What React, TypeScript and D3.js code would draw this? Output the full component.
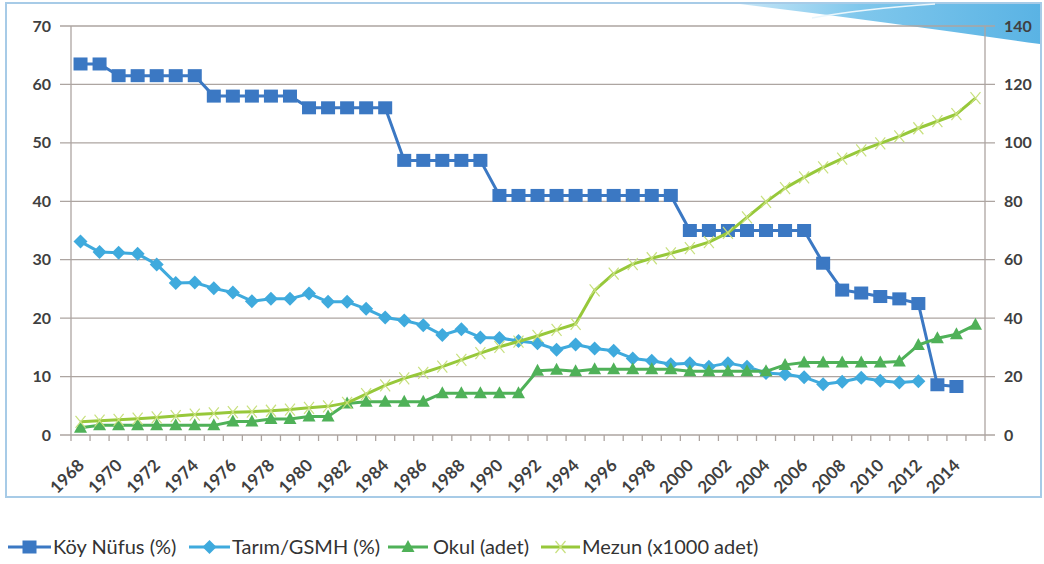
import React, { useEffect, useRef } from "react";
import * as d3 from "d3";

const years = d3.range(1968, 2016);

// Köy Nüfus (%) 1968-2014, left axis
const koyNufus = [
  63.5, 63.5, 61.5, 61.5, 61.5, 61.5, 61.5, 58, 58, 58, 58, 58, 56, 56, 56, 56, 56,
  47, 47, 47, 47, 47, 41, 41, 41, 41, 41, 41, 41, 41, 41, 41,
  35, 35, 35, 35, 35, 35, 35, 29.4, 24.8, 24.3, 23.7, 23.3, 22.5, 8.6, 8.3,
];

// Tarım/GSMH (%) 1968-2012, left axis
const tarim = [
  33.1, 31.3, 31.2, 31.0, 29.2, 26.0, 26.1, 25.1, 24.4, 22.9, 23.3, 23.3, 24.2, 22.8, 22.8,
  21.6, 20.1, 19.6, 18.8, 17.1, 18.1, 16.7, 16.6, 16.1, 15.7, 14.6, 15.5, 14.8, 14.4, 13.1,
  12.7, 12.1, 12.3, 11.7, 12.3, 11.7, 10.6, 10.4, 9.9, 8.7, 9.1, 9.8, 9.3, 9.0, 9.2,
];

// Okul (adet) 1968-2015, right axis
const okul = [
  2.5, 3.3, 3.3, 3.3, 3.3, 3.3, 3.3, 3.3, 4.6, 4.6, 5.5, 5.5, 6.3, 6.3, 10.8,
  11.4, 11.4, 11.4, 11.4, 14.3, 14.3, 14.3, 14.3, 14.3, 22.0, 22.3, 21.8,
  22.5, 22.5, 22.5, 22.5, 22.5, 21.8, 21.8, 21.8, 21.8, 21.8, 24.0,
  24.8, 24.8, 24.8, 24.8, 24.8, 25.2, 30.8, 33.1, 34.5, 37.7,
];

// Mezun (x1000 adet) 1968-2015, right axis
const mezun = [
  4.5, 4.9, 5.2, 5.6, 6.0, 6.5, 7.0, 7.4, 7.8, 8.0, 8.3, 8.7, 9.3, 9.8, 11.0,
  14.0, 17.0, 19.4, 21.3, 23.4, 25.7, 28.0, 30.2, 32.0, 33.9, 36.0, 38.0,
  49.5, 55.2, 58.5, 60.5, 62.2, 64.0, 66.0, 69.2, 74.5, 79.8, 84.5, 88.2,
  91.6, 94.6, 97.4, 99.8, 102.2, 105.0, 107.4, 109.8, 115.3,
];

const leftTicks = [0, 10, 20, 30, 40, 50, 60, 70];
const rightTicks = [0, 20, 40, 60, 80, 100, 120, 140];
const yearLabels = d3.range(1968, 2015, 2);

const seriesNames = ["Köy Nüfus (%)", "Tarım/GSMH (%)", "Okul (adet)", "Mezun (x1000 adet)"];
const colors = ["#3b78c3", "#3faadd", "#4fb158", "#97c83a"];

const W = 1044;
const H = 564;

function App() {
  const ref = useRef<SVGSVGElement>(null);

  useEffect(() => {
    const svg = d3.select(ref.current);
    svg.selectAll("*").remove();

    const left = 71, right = 985, top = 26, bottom = 435;
    const x = d3.scaleBand<number>().domain(years).range([left, right]);
    const cx = (yr: number) => (x(yr) as number) + x.bandwidth() / 2;
    const yL = d3.scaleLinear().domain([0, 70]).range([bottom, top]);
    const yR = d3.scaleLinear().domain([0, 140]).range([bottom, top]);

    const defs = svg.append("defs");
    const grad = defs.append("linearGradient").attr("id", "swoosh").attr("x1", "0").attr("x2", "1");
    grad.append("stop").attr("offset", "0").attr("stop-color", "#c6e6f7");
    grad.append("stop").attr("offset", "0.4").attr("stop-color", "#7fc7ec");
    grad.append("stop").attr("offset", "1").attr("stop-color", "#5ab3e4");

    // frame
    svg.append("rect").attr("x", 6).attr("y", 3).attr("width", 1035).attr("height", 494)
      .attr("fill", "#fff").attr("stroke", "#a7cbe7").attr("stroke-width", 2);
    svg.append("path")
      .attr("d", "M740,4 C840,16 940,30 1040,44 L1040,4 Z")
      .attr("fill", "url(#swoosh)");
    svg.append("path")
      .attr("d", "M812,18 C850,11 890,7 935,4")
      .attr("fill", "none").attr("stroke", "#eaf6fc").attr("stroke-width", 1.5);

    const font = "Lato, 'Open Sans', sans-serif";

    // gridlines
    svg.append("g").selectAll("line").data(leftTicks).join("line")
      .attr("x1", 60).attr("x2", 995)
      .attr("y1", (d) => yL(d)).attr("y2", (d) => yL(d))
      .attr("stroke", "#ada5a1").attr("stroke-width", 1.3);

    // axes lines
    svg.append("line").attr("x1", left).attr("x2", left).attr("y1", top).attr("y2", bottom + 6)
      .attr("stroke", "#ada5a1").attr("stroke-width", 1.3);
    svg.append("line").attr("x1", right).attr("x2", right).attr("y1", top).attr("y2", bottom + 6)
      .attr("stroke", "#ada5a1").attr("stroke-width", 1.3);
    svg.append("g").selectAll("line").data(years.slice(1)).join("line")
      .attr("x1", (d) => x(d) as number).attr("x2", (d) => x(d) as number)
      .attr("y1", bottom).attr("y2", bottom + 6)
      .attr("stroke", "#ada5a1").attr("stroke-width", 1.3);

    // tick labels
    svg.append("g").selectAll("text").data(leftTicks).join("text")
      .attr("x", 51).attr("y", (d) => yL(d)).attr("dy", "0.35em")
      .attr("text-anchor", "end").attr("font-family", font).attr("font-weight", 700)
      .attr("font-size", 16).attr("fill", "#404040").text((d) => d);
    svg.append("g").selectAll("text").data(rightTicks).join("text")
      .attr("x", 1004).attr("y", (d) => yR(d)).attr("dy", "0.35em")
      .attr("text-anchor", "start").attr("font-family", font).attr("font-weight", 700)
      .attr("font-size", 16).attr("fill", "#404040").text((d) => d);
    svg.append("g").selectAll("text").data(yearLabels).join("text")
      .attr("transform", (d) => `translate(${cx(d)},${462}) rotate(-45)`)
      .attr("text-anchor", "end").attr("dominant-baseline", "central")
      .attr("font-family", font).attr("font-weight", 700)
      .attr("font-size", 17).attr("fill", "#404040").text((d) => d);

    const plot = (vals: number[], y: d3.ScaleLinear<number, number>) =>
      vals.map((v, i) => [cx(years[i]), y(v)] as [number, number]);
    const line = d3.line();

    const drawSquare = (g: any, px: number, py: number, c: string) =>
      g.append("rect").attr("x", px - 7).attr("y", py - 6.5).attr("width", 14).attr("height", 13).attr("fill", c);
    const drawDiamond = (g: any, px: number, py: number, c: string) =>
      g.append("path").attr("d", `M${px},${py - 7}L${px + 7},${py}L${px},${py + 7}L${px - 7},${py}Z`).attr("fill", c);
    const drawTriangle = (g: any, px: number, py: number, c: string) =>
      g.append("path").attr("d", `M${px},${py - 7}L${px + 6.5},${py + 5}L${px - 6.5},${py + 5}Z`).attr("fill", c);
    const drawCross = (g: any, px: number, py: number, c: string) =>
      g.append("path").attr("d", `M${px - 5},${py - 6}L${px + 5},${py + 6}M${px + 5},${py - 6}L${px - 5},${py + 6}`)
        .attr("stroke", c).attr("stroke-width", 1.2).attr("fill", "none");

    const series = [
      { pts: plot(koyNufus, yL), c: colors[0], m: drawSquare, mc: colors[0] },
      { pts: plot(tarim, yL), c: colors[1], m: drawDiamond, mc: colors[1] },
      { pts: plot(okul, yR), c: colors[2], m: drawTriangle, mc: colors[2] },
      { pts: plot(mezun, yR), c: colors[3], m: drawCross, mc: "#c8e07e" },
    ];

    series.forEach((s) => {
      const g = svg.append("g");
      g.append("path").attr("d", line(s.pts)).attr("fill", "none")
        .attr("stroke", s.c).attr("stroke-width", 3).attr("stroke-linejoin", "round");
      s.pts.forEach(([px, py]) => s.m(g, px, py, s.mc));
    });

    // legend
    const legendItems = [
      { x0: 8, x1: 51, tx: 53 },
      { x0: 189, x1: 230, tx: 232 },
      { x0: 388, x1: 428, tx: 433 },
      { x0: 541, x1: 580, tx: 582 },
    ];
    const lg = svg.append("g");
    legendItems.forEach((it, i) => {
      const ly = 547;
      lg.append("line").attr("x1", it.x0).attr("x2", it.x1).attr("y1", ly).attr("y2", ly)
        .attr("stroke", colors[i]).attr("stroke-width", 3);
      series[i].m(lg, (it.x0 + it.x1) / 2, ly, series[i].mc);
      lg.append("text").attr("x", it.tx).attr("y", ly).attr("dy", "0.35em")
        .attr("font-family", font).attr("font-size", 20).attr("fill", "#333")
        .text(seriesNames[i]);
    });
  }, []);

  return (
    <svg ref={ref} width={W} height={H}
      style={{ position: "absolute", left: 0, top: 0, background: "#fff" }} />
  );
}

export default App;
